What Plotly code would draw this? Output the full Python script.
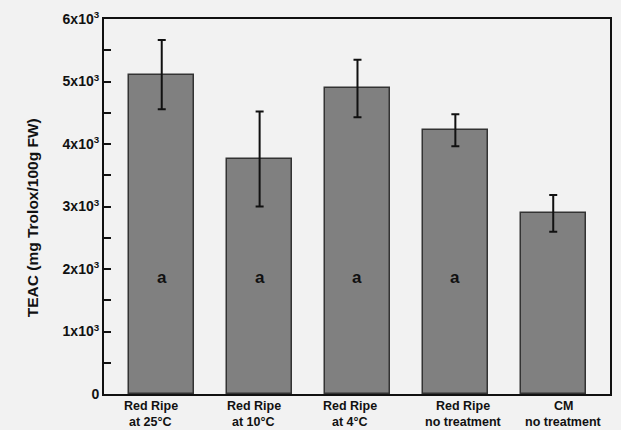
import plotly.graph_objects as go

# Treatment groups: first and second line of each axis label
group_line1 = ["Red Ripe", "Red Ripe", "Red Ripe", "Red Ripe", "CM"]
group_line2 = ["at 25°C", "at 10°C", "at 4°C", "no treatment", "no treatment"]
# TEAC means and standard deviations (mg Trolox/100g FW)
teac_mean = [5110, 3760, 4890, 4220, 2890]
teac_sd = [555, 760, 460, 255, 295]
# Significance letters
letters = ["a", "a", "a", "a", ""]
letter_y = 1870

# Y tick values and labels
y_tickvals = [0, 1000, 2000, 3000, 4000, 5000, 6000]
y_ticktext = ["0"] + [f"{i}x10<sup>3</sup>" for i in range(1, 7)]

# Horizontal nudges for group labels (category units)
label_shift = [-0.11, -0.06, -0.08, 0.08, 0.1]

FONT = "Liberation Sans, Arial, sans-serif"
INK = "#111111"
xs = list(range(len(group_line1)))

fig = go.Figure()
fig.add_trace(go.Bar(
    x=xs,
    y=teac_mean,
    width=0.66,
    marker=dict(color="#808080", line=dict(color="#333333", width=1.5)),
    error_y=dict(type="data", array=teac_sd, visible=True,
                 color=INK, thickness=2, width=4),
    showlegend=False,
))

label_font = dict(family=FONT, size=12.5, color=INK, weight="bold")
for i, sh in enumerate(label_shift):
    fig.add_annotation(x=i + sh, y=0, xref="x", yref="y", text=group_line1[i],
                       showarrow=False, yanchor="middle", yshift=-11.5,
                       borderpad=0, font=label_font)
    fig.add_annotation(x=i + sh, y=0, xref="x", yref="y", text=group_line2[i],
                       showarrow=False, yanchor="middle", yshift=-27.8,
                       borderpad=0, font=label_font)

for i, t in enumerate(letters):
    if t:
        fig.add_annotation(x=i, y=letter_y, xref="x", yref="y", text=t,
                           showarrow=False,
                           font=dict(family=FONT, size=17, color=INK, weight="bold"))

# Y-axis title as a rotated annotation
fig.add_annotation(x=-0.1407, y=0.4708, xref="paper", yref="paper",
                   text="TEAC (mg Trolox/100g FW)", textangle=-90,
                   showarrow=False, xanchor="center", yanchor="middle",
                   font=dict(family=FONT, size=15.5, color=INK, weight="bold"))

fig.update_layout(
    width=621, height=430,
    margin=dict(l=104, r=9, t=17, b=36),
    paper_bgcolor="#f2f2f2",
    plot_bgcolor="#f2f2f2",
    font=dict(family=FONT, color=INK),
    bargap=0,
)
fig.update_xaxes(
    range=[-0.59, 4.58],
    showticklabels=False,
    showgrid=False, zeroline=False,
    showline=True, linecolor=INK, linewidth=2, mirror=True,
    ticks="",
)
fig.update_yaxes(
    range=[0, 6000],
    tickvals=y_tickvals, ticktext=y_ticktext,
    ticks="inside", ticklen=7, tickwidth=1.5, tickcolor=INK,
    minor=dict(tickvals=[500, 1500, 2500, 3500, 4500, 5500], ticks="inside",
               ticklen=7, tickwidth=1.5, tickcolor=INK, showgrid=False),
    tickfont=dict(family=FONT, size=14, color=INK, weight="bold"),
    showgrid=False, zeroline=False,
    showline=True, linecolor=INK, linewidth=2, mirror=True,
)

fig.write_html("out.html")
